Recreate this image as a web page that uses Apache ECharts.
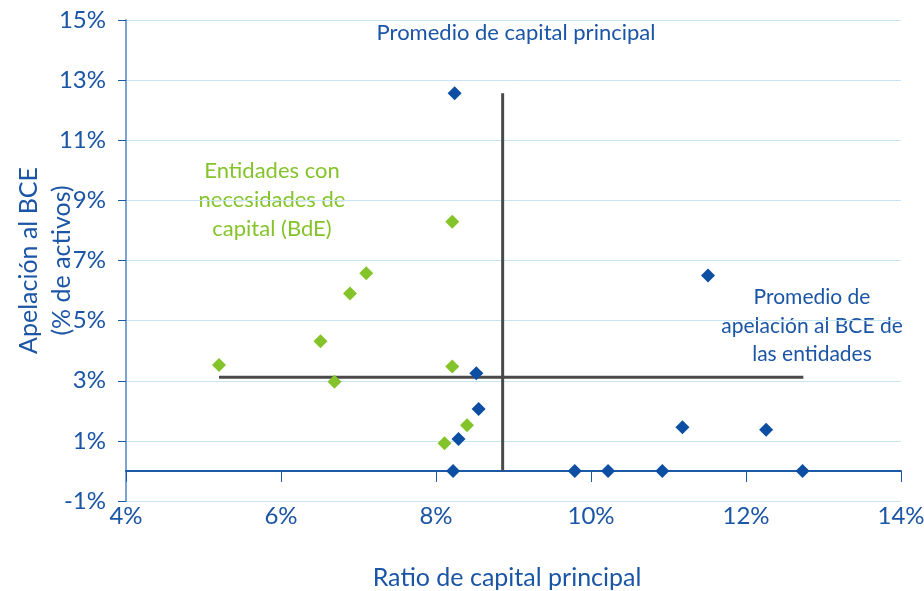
<!DOCTYPE html>
<html>
  <head>
    <meta charset="utf-8" />
    <title>Apelación al BCE vs capital principal</title>
    <script src="https://cdn.jsdelivr.net/npm/echarts@6/dist/echarts.min.js"></script>
  </head>
  <body style="margin: 0">
    <div id="main" style="width: 924px; height: 591px"></div>
  </body>

  <script>
    var myChart = echarts.init(document.getElementById("main"));

    // ratio de capital principal (%), apelación al BCE (% de activos)
    var entidades = [
      [8.24, 12.56], [8.52, 3.25], [8.55, 2.06], [8.29, 1.06], [8.22, 0],
      [11.51, 6.5], [11.18, 1.45], [12.26, 1.37],
      [9.79, 0], [10.22, 0], [10.92, 0], [12.73, 0],
    ];
    var necesidadesBdE = [
      [5.2, 3.52], [6.51, 4.31], [6.69, 2.97], [6.89, 5.9], [7.1, 6.58],
      [8.21, 8.29], [8.21, 3.47], [8.4, 1.52], [8.11, 0.92],
    ];
    var promedioCapital = 8.86;
    var promedioApelacion = 3.12;
    var rangoApelacion = [0, 12.56];  // extensión de la línea vertical
    var rangoCapital = [5.2, 12.74];  // extensión de la línea horizontal

    var xTicks = [4, 14, 2];
    var yTicks = [-1, 15, 2];

    var azul = "#0b4ea2";
    var verde = "#84c42a";
    var texto = "#1b55a5";
    var fuente = "Lato";

    option = {
      backgroundColor: "#fff",
      textStyle: { fontFamily: fuente },
      grid: {
        left: 126,
        right: 23,
        top: 20,
        bottom: 90,
        containLabel: false,
        outerBoundsMode: "none",
      },
      xAxis: [
        {
          type: "value",
          min: xTicks[0],
          max: xTicks[1],
          interval: xTicks[2],
          axisLine: { show: false, onZero: false },
          axisTick: { show: false },
          splitLine: { show: false },
          axisLabel: {
            formatter: "{value}%",
            color: texto,
            fontSize: 24,
            margin: 3,
            fontFamily: fuente,
          },
          name: "Ratio de capital principal",
          nameLocation: "middle",
          nameGap: 64,
          nameMoveOverlap: false,
          nameTextStyle: {
            color: texto,
            fontSize: 25,
            fontFamily: fuente,
            padding: [0, 13, 0, 0],
          },
        },
        {
          // eje en el cero con sus marcas
          type: "value",
          position: "bottom",
          min: xTicks[0],
          max: xTicks[1],
          interval: xTicks[2],
          axisLine: {
            show: true,
            onZero: true,
            lineStyle: { color: "#1c58a8", width: 2 },
          },
          axisTick: {
            show: true,
            length: 11,
            lineStyle: { color: "#1c58a8", width: 1 },
          },
          axisLabel: { show: false },
          splitLine: { show: false },
        },
      ],
      yAxis: {
        type: "value",
        min: yTicks[0],
        max: yTicks[1],
        interval: yTicks[2],
        axisLine: {
          show: true,
          onZero: false,
          lineStyle: { color: "#7ba4d6", width: 2 },
        },
        axisTick: {
          show: true,
          length: 8,
          lineStyle: { color: "#1c58a8", width: 1 },
        },
        splitLine: { lineStyle: { color: "#c6e5f4", width: 1 } },
        axisLabel: {
          formatter: "{value}%",
          color: texto,
          fontSize: 24,
          margin: 20,
          fontFamily: fuente,
        },
        name: "Apelación al BCE\n(% de activos)",
        nameLocation: "middle",
        nameRotate: 90,
        nameGap: 48,
        nameMoveOverlap: false,
        nameTextStyle: {
          color: texto,
          fontSize: 25,
          lineHeight: 33,
          fontFamily: fuente,
        },
      },
      graphic: [
        {
          type: "text",
          x: 516,
          y: 22,
          style: {
            text: "Promedio de capital principal",
            fill: texto,
            font: "22px " + fuente,
            align: "center",
          },
        },
        {
          type: "text",
          x: 272,
          y: 156,
          style: {
            text: "Entidades con\nnecesidades de\ncapital (BdE)",
            fill: verde,
            font: "22px " + fuente,
            align: "center",
            lineHeight: 29,
          },
        },
        {
          type: "text",
          x: 812,
          y: 283,
          style: {
            text: "Promedio de\napelación al BCE de\nlas entidades",
            fill: texto,
            font: "21px " + fuente,
            align: "center",
            lineHeight: 28.5,
          },
        },
      ],
      series: [
        {
          name: "Promedio capital",
          type: "line",
          symbol: "none",
          silent: true,
          lineStyle: { color: "#4a4a4a", width: 3 },
          data: [
            [promedioCapital, rangoApelacion[0]],
            [promedioCapital, rangoApelacion[1]],
          ],
        },
        {
          name: "Promedio apelación",
          type: "line",
          symbol: "none",
          silent: true,
          lineStyle: { color: "#4a4a4a", width: 3 },
          data: [
            [rangoCapital[0], promedioApelacion],
            [rangoCapital[1], promedioApelacion],
          ],
        },
        {
          name: "Entidades",
          type: "scatter",
          symbol: "diamond",
          symbolSize: 14,
          itemStyle: { color: azul, opacity: 1 },
          z: 3,
          data: entidades,
        },
        {
          name: "Necesidades de capital (BdE)",
          type: "scatter",
          symbol: "diamond",
          symbolSize: 14,
          itemStyle: { color: verde, opacity: 1 },
          z: 3,
          data: necesidadesBdE,
        },
      ],
    };

    myChart.setOption(option);
  </script>
</html>
